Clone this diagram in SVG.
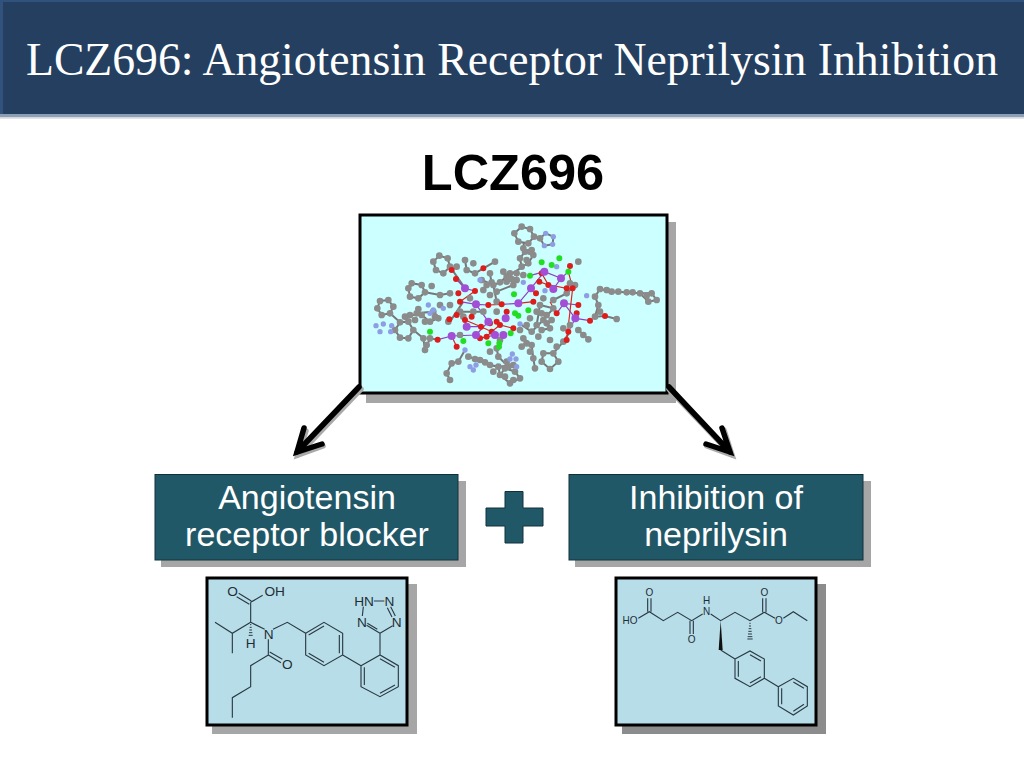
<svg xmlns="http://www.w3.org/2000/svg" width="1024" height="768" viewBox="0 0 1024 768">
<style>
.sans{font-family:"Liberation Sans",Arial,sans-serif}
.lbl{font-size:34px;fill:#fff;text-anchor:middle}
.sh{fill:#a6a6a6}
.sh2{fill:#8c8c8c}
.bond{fill:none;stroke:#2a3a44;stroke-width:3.4}
.atom{font-family:"Liberation Sans",Arial,sans-serif;font-size:41px;fill:#1f2d35;text-anchor:middle}
.atom2{font-family:"Liberation Sans",Arial,sans-serif;font-size:30px;fill:#1f2d35;text-anchor:middle}
.dot{fill:none;stroke-linecap:round}
.arrow{fill:none;stroke:#000;stroke-width:5.5;stroke-linecap:round;stroke-linejoin:miter}
.arrowsh{fill:none;stroke:#aaa;stroke-width:5.5;stroke-linecap:round}
</style>
<defs><filter id="soft" x="-5%" y="-5%" width="110%" height="110%"><feGaussianBlur stdDeviation="1.1"/></filter></defs>
<rect width="1024" height="768" fill="#fff"/>
<g id="header">
<rect width="1024" height="114" fill="#243f60"/>
<rect width="3" height="114" fill="#31527c"/>
<rect y="0" width="1024" height="2" fill="#31527c"/>
<rect y="114" width="1024" height="3.5" fill="#8ba0b4"/>
<rect y="117.5" width="1024" height="1.5" fill="#e6e2e6"/>
<text x="512" y="75" text-anchor="middle" font-family="'Liberation Serif','Times New Roman',serif" font-size="45.700" fill="#fff">LCZ696: Angiotensin Receptor Neprilysin Inhibition</text>
</g>
<text id="main-title" class="sans" x="513" y="190" text-anchor="middle" font-weight="700" font-size="50.500" fill="#000">LCZ696</text>

<g id="node-crystal">
<rect class="sh" x="366" y="222" width="310" height="181"/>
<rect x="360" y="215" width="307" height="178" fill="#ccffff" stroke="#000" stroke-width="3"/>
<g transform="translate(350 205) scale(.33333)" filter="url(#soft)">
<path fill="none" stroke="#777" stroke-width="6" d="M515 65L540 72L552 95L535 115L505 110L493 85L515 65M552 95L570 100L587 85L610 95L608 118L583 122L570 100M520 112L525 140L550 150L535 175L515 185L510 160L525 140M520 185L470 215L450 232L430 240L440 290M268 152L293 160L300 185L280 205L258 195L250 170L268 152M300 185L345 250M345 165L350 195L375 205L400 190L435 170M185 235L215 240L225 262L205 280L180 275L175 250L185 235M225 262L270 270L300 265M180 330L215 330L240 350L265 340L250 320L200 325M90 288L115 285L130 305L120 325L95 330L82 310L90 288M120 325L150 352L175 350L190 375L175 400L150 398L135 375L150 352M190 375L220 400L225 435L240 400L263 404M300 525L290 505L305 475L325 470L345 435M355 455L390 465L420 480L445 485L450 510L480 535L510 520L495 500L465 490L450 510M445 485L490 480M520 400L545 420L550 460L555 490M575 470L600 492L625 470L610 445L580 445L575 470M610 445L640 410L660 380M750 252L785 260L830 262L870 265L905 265L920 285L895 290L870 265M750 252L735 275L745 300L735 335L765 333L800 342M510 357L545 380L580 345L610 310L570 300L560 360M440 430L445 455L475 485M420 205L425 235M395 225L430 240M675 240L650 265L610 285M685 375L715 403M340 290L300 350M440 260L490 240M400 320L330 320M580 345L600 370L575 375"/>
<path fill="none" stroke="#9040c0" stroke-width="3.500" d="M345 250L318 222M345 250L375 258M378 298L330 290M378 298L415 300M378 298L415 350M505 295L455 298M505 295L543 250M543 250L583 200M583 200L633 220M633 220L610 252M642 295L685 300M642 295L620 325M642 295L676 340M676 340L720 347M676 340L655 380M467 340L470 320M435 390L390 400M350 365L345 345M350 365L393 365M305 393L263 404M305 393L378 390M378 390L415 350M583 200L540 212M633 220L655 200"/>
<path fill="none" stroke="#dd2020" stroke-width="3.500" d="M375 258L330 290M415 300L455 298M345 345L393 365L425 380L450 360L490 370M568 230L595 240L575 205M600 240L650 250M655 200L668 250L650 405M550 290L505 295M620 325L600 290M540 250L558 265M425 380L410 395L390 400M320 425L305 393"/>
<path class="dot" stroke="#8b8b8b" stroke-width="20" d="M515 65h0M540 72h0M552 95h0M535 115h0M505 110h0M493 85h0M570 100h0M520 130h0M525 140h0M540 140h0M550 150h0M535 175h0M515 185h0M510 160h0M520 210h0M500 205h0M480 205h0M470 215h0M450 232h0M430 240h0M440 290h0M420 205h0M425 232h0M395 225h0M268 152h0M293 160h0M300 185h0M280 205h0M258 195h0M250 170h0M345 165h0M350 195h0M375 205h0M435 170h0M185 235h0M215 240h0M225 262h0M205 280h0M180 275h0M175 250h0M245 243h0M270 270h0M300 265h0M180 330h0M215 330h0M240 350h0M265 340h0M250 320h0M200 325h0M90 288h0M115 285h0M130 305h0M120 325h0M95 330h0M82 310h0M150 352h0M175 350h0M190 375h0M175 400h0M150 398h0M135 375h0M220 400h0M225 435h0M240 400h0M230 420h0M300 525h0M290 505h0M305 475h0M325 470h0M355 455h0M375 462h0M390 465h0M405 472h0M420 480h0M445 485h0M450 510h0M480 535h0M510 520h0M495 500h0M465 490h0M490 480h0M520 400h0M530 415h0M545 420h0M550 460h0M555 490h0M575 470h0M600 492h0M625 470h0M610 445h0M580 445h0M620 425h0M640 410h0M750 252h0M785 260h0M805 260h0M830 262h0M870 265h0M905 265h0M920 285h0M895 290h0M735 275h0M745 300h0M735 335h0M800 342h0M510 375h0M545 380h0M580 345h0M610 310h0M570 300h0M560 360h0M590 355h0M575 375h0M440 430h0M445 455h0M475 485h0M685 375h0M715 403h0M675 240h0M650 265h0M610 285h0M580 280h0M440 260h0M490 240h0M330 320h0M340 335h0M370 320h0M400 320h0M440 320h0M295 350h0M450 405h0M330 390h0M400 255h0M300 300h0M685 170h0M660 235h0M750 320h0M470 230h0M500 225h0M575 325h0M600 370h0M530 360h0M515 425h0M560 320h0M460 200h0M485 222h0M530 165h0M545 135h0M320 185h0M370 175h0M410 240h0M270 300h0M255 335h0M225 350h0M195 345h0M165 335h0M205 312h0M360 280h0M420 270h0M540 340h0M590 330h0M605 345h0M565 395h0M540 440h0M600 405h0M465 515h0M490 525h0M430 500h0M660 360h0M700 390h0M640 370h0M770 255h0M848 262h0M890 272h0M420 440h0M470 470h0"/>
<path class="dot" stroke="#8e9ee4" stroke-width="16" d="M587 85h0M610 95h0M608 118h0M583 122h0M78 362h0M100 357h0M125 362h0M122 380h0M90 380h0M235 300h0M250 315h0M240 325h0M487 447h0M480 462h0M498 462h0M500 485h0M378 480h0M360 485h0M370 495h0M520 232h0M345 435h0M510 357h0M585 257h0M620 185h0M710 272h0M390 225h0M280 310h0"/>
<path class="dot" stroke="#dd1c1c" stroke-width="18" d="M305 195h0M318 222h0M375 258h0M325 265h0M330 290h0M298 343h0M320 330h0M415 300h0M455 298h0M470 320h0M400 190h0M568 230h0M595 240h0M650 250h0M668 250h0M660 183h0M558 265h0M550 290h0M685 300h0M680 325h0M720 347h0M765 333h0M655 380h0M650 405h0M263 404h0M320 425h0M345 345h0M365 335h0M393 365h0M425 380h0M450 360h0M490 370h0M390 400h0M410 395h0M440 350h0M420 355h0M620 325h0M575 205h0"/>
<path class="dot" stroke="#a24fd6" stroke-width="24" d="M345 250h0M378 298h0M505 295h0M543 250h0M583 200h0M633 220h0M610 252h0M642 295h0M676 340h0M467 340h0M415 350h0M350 365h0M435 390h0M460 390h0M378 390h0M305 393h0"/>
<path class="dot" stroke="#22dd22" stroke-width="18" d="M540 212h0M575 172h0M605 180h0M628 160h0M655 200h0M492 268h0M505 332h0M535 316h0M240 380h0M340 408h0M415 415h0M448 415h0M482 385h0M447 425h0M495 325h0"/>
</g>
</g>

<g id="connectors">
<path class="arrowsh" d="M361 389L298 455M306 431L298 455L323 446"/>
<path class="arrowsh" d="M669 389L732 455M724 430L732 455L707 446"/>
<path class="arrow" d="M359 387L297 452M304 428L297 452L322 444"/>
<path class="arrow" d="M669 387L730 452M722 428L730 452L706 444"/>
</g>

<g id="node-arb">
<rect class="sh" x="161" y="481" width="305" height="86"/>
<rect x="155" y="474.500" width="303" height="85.500" fill="#215868" stroke="#12303a" stroke-width="1"/>
<text class="sans lbl" x="307" y="509">Angiotensin</text>
<text class="sans lbl" x="307" y="546">receptor blocker</text>
</g>
<g id="node-plus">
<path d="M505 491.500H523V508H543V526H523V543H505V526H486V508H505Z" fill="#215868" stroke="#12303a" stroke-width="1"/>
</g>
<g id="node-nep">
<rect class="sh" x="575" y="481" width="296" height="86"/>
<rect x="569" y="474.500" width="294" height="85.500" fill="#215868" stroke="#12303a" stroke-width="1"/>
<text class="sans lbl" x="716" y="509">Inhibition of</text>
<text class="sans lbl" x="716" y="546">neprilysin</text>
</g>

<g id="node-valsartan">
<rect class="sh" x="212" y="584" width="205" height="150"/>
<rect x="207" y="578" width="200" height="147" fill="#b7dde8" stroke="#000" stroke-width="3"/>
<g transform="translate(200 570) scale(.33333)">
<path class="bond" d="M116 70L154 93M110 80L148 103M152 97L188 76M152 97V157M152 157L97 190L45 157M97 190V250M152 157L194 178M219 178L262 157L317 190M317 190L372 157L428 190V255L372 287L317 255ZM326 195L372 168M418 195V250M326 250L372 277M428 255L483 287M483 287L540 255L595 287V350L540 380L483 350ZM540 266L585 292M585 345L540 370M493 292V345M540 255V190M540 190L578 167M540 190L500 166M532 178L502 160M522 93H553M490 110L487 138M572 110L586 138M562 113L576 141M205 208V255M205 255L243 278M209 246L247 268M205 255L152 287V350L97 383V443"/>
<path d="M150 164H154M149 172H155M148 180H156M147 188H157M146 196H158" stroke="#2a3a44" stroke-width="3" fill="none"/>
<text class="atom" x="98" y="77">O</text><text class="atom" x="224" y="77">OH</text>
<text class="atom" x="152" y="235">H</text><text class="atom" x="206" y="207">N</text>
<text class="atom" x="262" y="298">O</text>
<text class="atom" x="492" y="108">HN</text><text class="atom" x="568" y="108">N</text>
<text class="atom" x="486" y="171">N</text><text class="atom" x="590" y="171">N</text>
</g>
</g>

<g id="node-sacubitril">
<rect class="sh2" x="622" y="584" width="204" height="150"/>
<rect x="616" y="578" width="200" height="147" fill="#b7dde8" stroke="#000" stroke-width="3"/>
<g transform="translate(610 570) scale(.33333)">
<path class="bond" d="M85 145L118 125L160 152L203 127L245 152L278 132M113 85V125M123 85V125M240 152V192M250 152V192M302 132L332 152L375 127L420 152L463 127M458 127V85M468 127V85M463 127L495 145M520 145L550 125L592 152M332 240L375 267M375 267L420 243L463 267V325L420 350L375 325ZM420 254L453 273M453 320L420 339M385 273V320M463 325L505 350M505 350L550 325L592 350V408L550 435L505 408ZM550 336L582 355M582 403L550 424M515 355V403"/>
<path d="M332 152L326 240H338Z" fill="#111"/>
<path d="M418 160H422M417 168H423M416 176H424M415 184H425M414 192H426M413 200H427M412 207H428" stroke="#2a3a44" stroke-width="3" fill="none"/>
<text class="atom2" x="60" y="163">HO</text><text class="atom2" x="118" y="79">O</text>
<text class="atom2" x="245" y="218">O</text><text class="atom2" x="290" y="103">H</text>
<text class="atom2" x="290" y="134">N</text><text class="atom2" x="463" y="79">O</text>
<text class="atom2" x="507" y="161">O</text>
</g>
</g>
</svg>
